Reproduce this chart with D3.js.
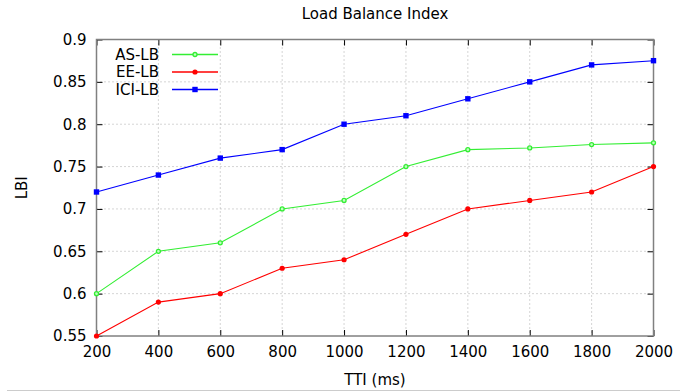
<!DOCTYPE html>
<html>
<head>
<meta charset="utf-8">
<script src="https://cdn.jsdelivr.net/npm/d3@7"></script>
<style>
  body { margin: 0; background: #fff; }
  text { font-family: "DejaVu Sans", sans-serif; fill: #000; }
</style>
</head>
<body>
<script>
// ---- data ----
var tti = [200, 400, 600, 800, 1000, 1200, 1400, 1600, 1800, 2000];
var asLB  = [0.60, 0.65, 0.66, 0.70, 0.71, 0.75, 0.77, 0.772, 0.776, 0.778];
var eeLB  = [0.55, 0.59, 0.60, 0.63, 0.64, 0.67, 0.70, 0.71, 0.72, 0.75];
var iciLB = [0.72, 0.74, 0.76, 0.77, 0.80, 0.81, 0.83, 0.85, 0.87, 0.875];
var yTicks = [0.55, 0.6, 0.65, 0.7, 0.75, 0.8, 0.85, 0.9];
var xTicks = [200, 400, 600, 800, 1000, 1200, 1400, 1600, 1800, 2000];

var series = [
  {name: "AS-LB",  values: asLB,  color: "#33ee33", marker: "ring"},
  {name: "EE-LB",  values: eeLB,  color: "#ff0000", marker: "dot"},
  {name: "ICI-LB", values: iciLB, color: "#0000ff", marker: "square"}
];

// ---- svg ----
var W = 694, H = 391;
var margin = {top: 39.5, right: 40.5, bottom: 55, left: 96.5};
var width = W - margin.left - margin.right,
    height = H - margin.top - margin.bottom;

var svg = d3.select("body").append("svg")
  .attr("width", W).attr("height", H);

var g = svg.append("g")
  .attr("transform", "translate(" + margin.left + "," + margin.top + ")");

var x = d3.scaleLinear().domain([200, 2000]).range([0, width]);
var y = d3.scaleLinear().domain([0.55, 0.9]).range([height, 0]);

// grid
g.selectAll("line.gx").data(xTicks.slice(1, -1)).enter().append("line")
  .attr("x1", d => x(d)).attr("x2", d => x(d))
  .attr("y1", 0).attr("y2", height)
  .attr("stroke", "#aaa").attr("stroke-width", 1).attr("stroke-dasharray", "1,3");
g.selectAll("line.gy").data(yTicks.slice(1, -1)).enter().append("line")
  .attr("x1", 0).attr("x2", width)
  .attr("y1", d => y(d)).attr("y2", d => y(d))
  .attr("stroke", "#aaa").attr("stroke-width", 1).attr("stroke-dasharray", "1,3");

// axes (ticks inside, mirrored)
var tickLen = 6;
var axB = g.append("g").attr("transform", "translate(0," + height + ")")
  .call(d3.axisBottom(x).tickValues(xTicks).tickSize(-tickLen).tickPadding(10).tickFormat(d3.format("d")));
var axT = g.append("g")
  .call(d3.axisTop(x).tickValues(xTicks).tickSize(-tickLen).tickFormat(""));
var axL = g.append("g")
  .call(d3.axisLeft(y).tickValues(yTicks).tickSize(-tickLen).tickPadding(10).tickFormat(d => String(+d.toFixed(2))));
var axR = g.append("g").attr("transform", "translate(" + width + ",0)")
  .call(d3.axisRight(y).tickValues(yTicks).tickSize(-tickLen).tickFormat(""));

[axB, axT, axL, axR].forEach(function(a) {
  a.select(".domain").remove();
  a.selectAll(".tick line").attr("stroke", "#000").attr("stroke-width", 1);
  a.selectAll(".tick text").style("font-size", "15px").style("font-family", "DejaVu Sans, sans-serif").attr("fill", "#000");
});
axB.selectAll(".tick text").attr("dy", "0.71em");
axL.selectAll(".tick text").attr("dy", "0.32em");

// border
g.append("rect").attr("x", 0).attr("y", 0).attr("width", width).attr("height", height)
  .attr("fill", "none").attr("stroke", "#808080").attr("stroke-width", 1.5);

// lines + markers
var line = d3.line().x((d, i) => x(tti[i])).y(d => y(d));

function drawMarker(sel, s, cx, cy) {
  if (s.marker === "square") {
    sel.append("rect").attr("x", cx - 2.7).attr("y", cy - 2.7).attr("width", 5.4).attr("height", 5.4)
      .attr("fill", s.color);
  } else if (s.marker === "ring") {
    sel.append("circle").attr("cx", cx).attr("cy", cy).attr("r", 2)
      .attr("fill", "#bfffbf").attr("stroke", s.color).attr("stroke-width", 1.3);
  } else {
    sel.append("circle").attr("cx", cx).attr("cy", cy).attr("r", 2.6)
      .attr("fill", s.color);
  }
}

series.forEach(function(s) {
  g.append("path").datum(s.values)
    .attr("d", line).attr("fill", "none")
    .attr("stroke", s.color).attr("stroke-width", 1.1);
  var mg = g.append("g");
  s.values.forEach(function(v, i) { drawMarker(mg, s, x(tti[i]), y(v)); });
});

// legend
var legend = svg.append("g");
series.forEach(function(s, i) {
  var ly = 54.5 + i * 17.5;
  legend.append("text").attr("x", 159).attr("y", ly).attr("dy", "0.35em")
    .attr("text-anchor", "end").style("font-size", "15px").text(s.name);
  legend.append("line").attr("x1", 172).attr("x2", 218).attr("y1", ly).attr("y2", ly)
    .attr("stroke", s.color).attr("stroke-width", 1.3);
  drawMarker(legend, s, 195, ly);
});

// titles
svg.append("text").attr("x", 375).attr("y", 13.5).attr("dy", "0.35em")
  .attr("text-anchor", "middle").style("font-size", "15px").text("Load Balance Index");
svg.append("text").attr("x", 375).attr("y", 380).attr("dy", "0.35em")
  .attr("text-anchor", "middle").style("font-size", "15px").text("TTI (ms)");
svg.append("text").attr("transform", "translate(22," + (margin.top + height / 2) + ") rotate(-90)")
  .attr("dy", "0.35em").attr("text-anchor", "middle").style("font-size", "15px").text("LBI");

// page edge line
svg.append("line").attr("x1", 7).attr("x2", 680).attr("y1", 390.5).attr("y2", 390.5)
  .attr("stroke", "#ccc").attr("stroke-width", 1);
</script>
</body>
</html>
